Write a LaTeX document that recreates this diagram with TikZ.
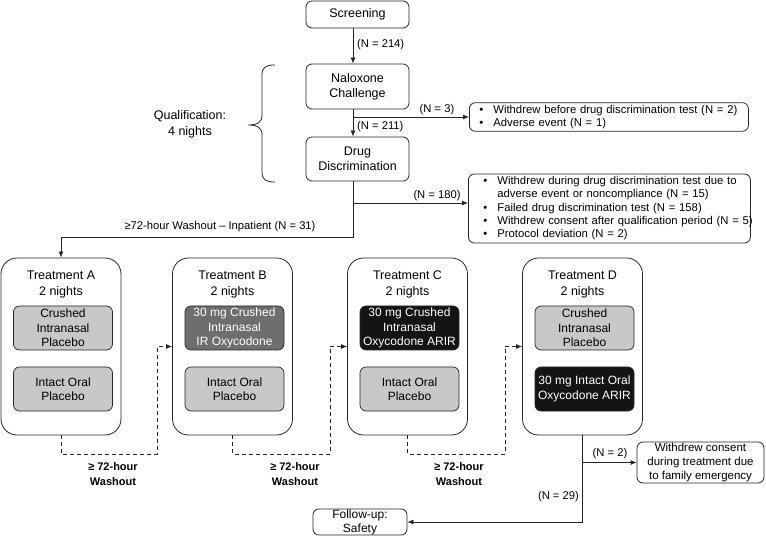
\documentclass[tikz,border=0pt]{standalone}
\usepackage{fontspec}
\setmainfont{Liberation Sans}
\usetikzlibrary{arrows.meta}
\newcommand{\fsz}[2]{\fontsize{#1}{#2}\selectfont}
\definecolor{lightfill}{HTML}{C8C8C8}
\definecolor{midfill}{HTML}{6E6E6E}
\definecolor{darkfill}{HTML}{141414}
\definecolor{linegray}{HTML}{262626}
\tikzset{
  stage/.style={draw=linegray, line width=0.8pt, rounded corners=6pt, align=center, minimum width=103pt, inner sep=1pt, font=\fsz{12.5}{15}},
  note/.style={draw=linegray, line width=0.8pt, rounded corners=6pt, align=left, inner ysep=1pt, font=\fsz{11.3}{13.3}},
  period/.style={draw=linegray, line width=0.8pt, rounded corners=16pt, minimum width=120pt, minimum height=177pt},
  title/.style={align=center, inner sep=0pt, font=\fsz{12.5}{16}},
  drug/.style={draw=linegray, line width=0.7pt, rounded corners=6pt, fill=lightfill, minimum width=99pt, minimum height=44pt, align=center, inner sep=1pt, font=\fsz{12}{14.5}},
  lbl/.style={inner sep=1pt, font=\fsz{11.2}{13}},
  washlbl/.style={align=center, inner sep=0pt, font=\fsz{11}{15}\bfseries},
  arr/.style={draw=linegray, line width=0.8pt, -{Latex[length=6pt,width=5pt]}},
  wash/.style={draw=linegray, line width=0.8pt, dash pattern=on 4pt off 3pt, -{Latex[length=6pt,width=5pt]}},
}
\begin{document}
\begin{tikzpicture}[x=1pt, y=-1pt]
\useasboundingbox (0,0) rectangle (766,537);
\coordinate (sp) at (353,0);
% qualification
\node (scr)[stage, minimum height=27pt] at (357.5,14.5) {Screening};
\node (nal)[stage, minimum height=45pt] at (357.5,86.5) {Naloxone\\Challenge};
\node (dd)[stage, minimum height=44pt] at (357.5,159) {Drug\\Discrimination};
\node (qual)[align=center, font=\fsz{12.5}{16}] at (190,124) {Qualification:\\4 nights};
\draw[draw=linegray, line width=0.8pt] (275,65) .. controls (266,65) and (262,67) .. (262,75) -- (262,115)
  .. controls (262,122) and (258,125) .. (248,125) .. controls (258,125) and (262,128) .. (262,135)
  -- (262,172) .. controls (262,180) and (266,182) .. (275,182);
\node (ex1)[note, anchor=west, inner xsep=10pt, text width=259pt, minimum height=28pt] at (469,117)
  {\begin{tabular}{@{}p{14pt}@{}l@{}}
  • & Withdrew before drug discrimination test (N = 2)\\
  • & Adverse event (N = 1)
  \end{tabular}};
\node (ex2)[note, anchor=west, inner xsep=15pt, text width=252pt, minimum height=69pt] at (468,208.5)
  {\begin{tabular}{@{}p{14pt}@{}l@{}}
  • & Withdrew during drug discrimination test due to\\
    & adverse event or noncompliance (N = 15)\\
  • & Failed drug discrimination test (N = 158)\\
  • & Withdrew consent after qualification period (N = 5)\\
  • & Protocol deviation (N = 2)
  \end{tabular}};
\draw[arr] (scr.south -| sp) -- (nal.north -| sp);
\node (n214)[lbl, anchor=west] at (356,45) {(N = 214)};
\draw[arr] (nal.south -| sp) -- (dd.north -| sp);
\node (n211)[lbl, anchor=west] at (356,127) {(N = 211)};
\draw[arr] (sp |- ex1.west) -- (ex1.west);
\node (n3)[lbl] at (437,110) {(N = 3)};
\coordinate (b180) at (353,203);
\coordinate (wturn) at (353,237);
\draw[arr] (b180) -- (b180 -| ex2.west);
\node (n180)[lbl] at (437,196) {(N = 180)};
% treatment periods
\node (trA)[period] at (61,346.5) {};
\node (trB)[period] at (232.5,346.5) {};
\node (trC)[period] at (407.5,346.5) {};
\node (trD)[period] at (582.5,346.5) {};
\draw[arr] (dd.south -| sp) -- (wturn) -| (trA.north);
\node (n31)[lbl] at (220,227) {≥72-hour Washout – Inpatient (N = 31)};
\node (tA)[title] at (61,284) {Treatment A\\2 nights};
\node (tB)[title] at (232.5,284) {Treatment B\\2 nights};
\node (tC)[title] at (407.5,284) {Treatment C\\2 nights};
\node (tD)[title] at (582.5,284) {Treatment D\\2 nights};
\node (a1)[drug] at (63,328) {Crushed\\Intranasal\\Placebo};
\node (a2)[drug] at (63,389) {Intact Oral\\Placebo};
\node (b1)[drug, fill=midfill, text=white] at (234.5,328) {30 mg Crushed\\Intranasal\\IR Oxycodone};
\node (b2)[drug] at (234.5,389) {Intact Oral\\Placebo};
\node (c1)[drug, fill=darkfill, text=white] at (409.5,328) {30 mg Crushed\\Intranasal\\Oxycodone ARIR};
\node (c2)[drug] at (409.5,389) {Intact Oral\\Placebo};
\node (d1)[drug] at (584.5,328) {Crushed\\Intranasal\\Placebo};
\node (d2)[drug, fill=darkfill, text=white] at (584.5,389) {30 mg Intact Oral\\Oxycodone ARIR};
% washouts
\coordinate (wAB) at (157,454);
\coordinate (wBC) at (330,454);
\coordinate (wCD) at (505,454);
\draw[wash] (trA.south) |- (wAB) |- (trB.west);
\draw[wash] (trB.south) |- (wBC) |- (trC.west);
\draw[wash] (trC.south) |- (wCD) |- (trD.west);
\node (w1)[washlbl] at (113,474.5) {≥ 72-hour\\Washout};
\node (w2)[washlbl] at (295,474.5) {≥ 72-hour\\Washout};
\node (w3)[washlbl] at (459,474.5) {≥ 72-hour\\Washout};
% end of study
\node (wd)[stage, minimum width=127pt, minimum height=41pt, font=\fsz{11.5}{14}] at (700.5,462.5) {Withdrew consent\\during treatment due\\to family emergency};
\node (fu)[stage, minimum width=94pt, minimum height=26pt, inner sep=0.5pt, font=\fsz{12}{14}] at (360,522) {Follow-up:\\Safety};
\draw[arr] (trD.south) |- (fu.east);
\draw[arr] (trD.south |- wd.west) -- (wd.west);
\node (n2)[lbl] at (610,454) {(N = 2)};
\node (n29)[lbl, anchor=east] at (580,497) {(N = 29)};
\end{tikzpicture}
\end{document}
